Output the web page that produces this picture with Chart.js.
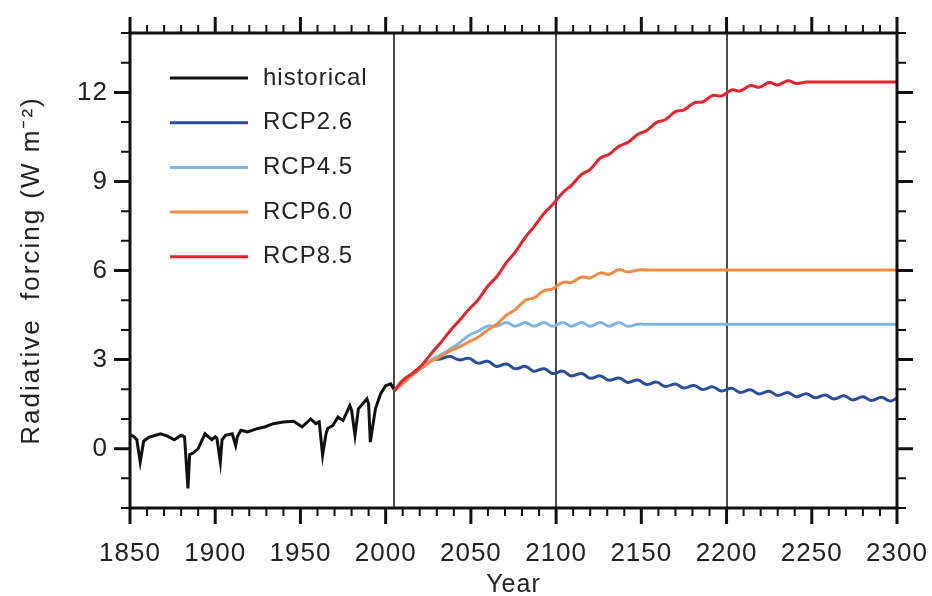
<!DOCTYPE html>
<html>
<head>
<meta charset="utf-8">
<script src="https://cdn.jsdelivr.net/npm/chart.js@4.4.1/dist/chart.umd.min.js"></script>
<style>
  html, body { margin: 0; padding: 0; background: #fff; }
  #wrap { width: 932px; height: 596px; }
</style>
</head>
<body>
<div id="wrap"><canvas id="chart" width="932" height="596"></canvas></div>
<script>
// historical forcing (volcanic dips kept as single points)
const histYears = [1850, 1852, 1854, 1856, 1858, 1861, 1865, 1868, 1872, 1876, 1880, 1882, 1884, 1885, 1887, 1890,
	1894, 1898, 1900, 1901, 1903, 1904, 1906, 1910, 1912, 1913, 1915, 1919, 1925, 1929, 1934, 1940, 1946, 1951,
	1956, 1959, 1961, 1963, 1965, 1966, 1969, 1972, 1975, 1979, 1980, 1982, 1984, 1989, 1990, 1991, 1992, 1994,
	1997, 2000, 2003, 2005];
const histValues = [0.45, 0.42, 0.3, -0.45, 0.25, 0.38, 0.45, 0.5, 0.42, 0.3, 0.45, 0.4, -1.34, -0.2, -0.15, 0.0,
	0.5, 0.3, 0.4, 0.35, -0.45, 0.3, 0.45, 0.5, 0.1, 0.4, 0.62, 0.56, 0.68, 0.73, 0.84, 0.9, 0.92, 0.73,
	1.0, 0.84, 0.9, -0.22, 0.5, 0.68, 0.78, 1.06, 0.95, 1.45, 1.3, 0.45, 1.34, 1.68, 1.5, 0.22, 0.6, 1.34,
	1.84, 2.12, 2.18, 1.98];

// scenario years: roughly half a solar cycle apart so the wiggle shows
const futureYears = [2005, 2010, 2016, 2021, 2027, 2032, 2038, 2043, 2049, 2054, 2060, 2065, 2071, 2076, 2082,
	2087, 2093, 2098, 2104, 2109, 2115, 2120, 2126, 2131, 2137, 2142, 2148, 2153, 2159, 2164, 2170, 2175, 2181,
	2186, 2192, 2197, 2203, 2208, 2214, 2219, 2225, 2230, 2236, 2241, 2247, 2252, 2258, 2263, 2269, 2274, 2280,
	2285, 2291, 2296, 2300];
const rcp26 = [1.95, 2.2, 2.5, 2.72, 2.97, 3.02, 3.1, 2.99, 3.04, 2.88, 2.94, 2.77, 2.85, 2.69, 2.77,
	2.61, 2.69, 2.53, 2.61, 2.45, 2.53, 2.37, 2.45, 2.3, 2.38, 2.23, 2.31, 2.16, 2.24, 2.09, 2.18, 2.04, 2.13,
	1.99, 2.08, 1.94, 2.03, 1.89, 1.98, 1.84, 1.93, 1.79, 1.89, 1.75, 1.85, 1.71, 1.81, 1.67, 1.78, 1.64, 1.75,
	1.62, 1.73, 1.6, 1.7];
const rcp45 = [1.95, 2.2, 2.52, 2.76, 3.0, 3.15, 3.36, 3.55, 3.82, 3.95, 4.13, 4.12, 4.25, 4.12, 4.25,
	4.12, 4.25, 4.12, 4.25, 4.12, 4.25, 4.12, 4.25, 4.12, 4.25, 4.12, 4.19, 4.19, 4.19, 4.19, 4.19, 4.19, 4.19,
	4.19, 4.19, 4.19, 4.19, 4.19, 4.19, 4.19, 4.19, 4.19, 4.19, 4.19, 4.19, 4.19, 4.19, 4.19, 4.19, 4.19, 4.19,
	4.19, 4.19, 4.19, 4.19];
const rcp60 = [1.95, 2.2, 2.5, 2.72, 2.95, 3.1, 3.3, 3.42, 3.6, 3.74, 4.0, 4.18, 4.5, 4.68, 5.0,
	5.08, 5.32, 5.38, 5.6, 5.6, 5.78, 5.75, 5.92, 5.87, 6.03, 5.95, 6.02, 6.02, 6.02, 6.02, 6.02, 6.02, 6.02,
	6.02, 6.02, 6.02, 6.02, 6.02, 6.02, 6.02, 6.02, 6.02, 6.02, 6.02, 6.02, 6.02, 6.02, 6.02, 6.02, 6.02, 6.02,
	6.02, 6.02, 6.02, 6.02];
const rcp85 = [1.95, 2.3, 2.55, 2.8, 3.22, 3.55, 3.98, 4.3, 4.7, 5.0, 5.48, 5.78, 6.28, 6.62, 7.12,
	7.47, 7.93, 8.22, 8.63, 8.87, 9.24, 9.41, 9.79, 9.91, 10.19, 10.31, 10.59, 10.71, 10.99, 11.08, 11.35, 11.41, 11.65,
	11.68, 11.9, 11.88, 12.08, 12.05, 12.23, 12.17, 12.33, 12.25, 12.39, 12.3, 12.35, 12.35, 12.35, 12.35, 12.35, 12.35, 12.35,
	12.35, 12.35, 12.35, 12.35];

const seriesNames = ['historical', 'RCP2.6', 'RCP4.5', 'RCP6.0', 'RCP8.5'];
const seriesColors = ['#111111', '#2a4e9c', '#7db5e5', '#f48943', '#e6232c'];

const xTicks = [1850, 1900, 1950, 2000, 2050, 2100, 2150, 2200, 2250, 2300];
const yTicks = [0, 3, 6, 9, 12];
const refYears = [2005, 2100, 2200];
const yTitle = 'Radiative  forcing (W m\u207B\u00B2)';

const FONT = "'Liberation Sans', Arial, Helvetica, sans-serif";
const INK = '#222';

const toPoints = (xs, ys) => xs.map((x, i) => ({ x: x, y: ys[i] }));

const makeSet = (i, xs, ys, order, tension) => ({
	label: seriesNames[i],
	data: toPoints(xs, ys),
	borderColor: seriesColors[i],
	backgroundColor: seriesColors[i],
	borderWidth: 3,
	pointRadius: 0,
	tension: tension,
	order: order
});

const framePlugin = {
	id: 'frame',
	beforeLayout(chart) {
		chart.ctx.letterSpacing = '1px';
	},
	beforeDraw(chart) {
		chart.ctx.letterSpacing = '1px';
	},
	beforeDatasetsDraw(chart) {
		const { ctx, chartArea: a, scales } = chart;
		ctx.save();
		ctx.strokeStyle = '#4a4a4a';
		ctx.lineWidth = 2;
		refYears.forEach((yr) => {
			const px = Math.round(scales.x.getPixelForValue(yr));
			ctx.beginPath();
			ctx.moveTo(px, a.top);
			ctx.lineTo(px, a.bottom);
			ctx.stroke();
		});
		ctx.restore();
	},
	afterDatasetsDraw(chart) {
		const { ctx, chartArea: a, scales } = chart;
		ctx.save();
		ctx.strokeStyle = '#111';
		ctx.lineWidth = 3;
		ctx.strokeRect(a.left, a.top, a.right - a.left, a.bottom - a.top);
		// outward tick marks on all four sides
		for (let yr = 1850; yr <= 2300; yr += 10) {
			const major = xTicks.includes(yr);
			const len = major ? 16 : 8;
			const px = scales.x.getPixelForValue(yr);
			ctx.lineWidth = major ? 3 : 2;
			ctx.beginPath();
			ctx.moveTo(px, a.bottom);
			ctx.lineTo(px, a.bottom + len);
			ctx.moveTo(px, a.top);
			ctx.lineTo(px, a.top - len);
			ctx.stroke();
		}
		for (let v = -2; v <= 14; v++) {
			const major = yTicks.includes(v);
			const len = major ? 16 : 9;
			const py = scales.y.getPixelForValue(v);
			ctx.lineWidth = major ? 3 : 2;
			ctx.beginPath();
			ctx.moveTo(a.left, py);
			ctx.lineTo(a.left - len, py);
			ctx.moveTo(a.right, py);
			ctx.lineTo(a.right + len, py);
			ctx.stroke();
		}
		ctx.restore();
	},
	afterDraw(chart) {
		const { ctx, chartArea: a } = chart;
		ctx.save();
		ctx.font = '24px ' + FONT;
		ctx.textBaseline = 'middle';
		ctx.fillStyle = INK;
		chart.data.datasets.forEach((ds, i) => {
			const yy = a.top + 45 + i * 44.7;
			ctx.strokeStyle = ds.borderColor;
			ctx.lineWidth = 3;
			ctx.beginPath();
			ctx.moveTo(a.left + 40, yy);
			ctx.lineTo(a.left + 118, yy);
			ctx.stroke();
			ctx.fillText(ds.label, a.left + 133, yy);
		});
		// y axis title, wider spaced than the library title allows
		ctx.letterSpacing = '2px';
		ctx.font = '26px ' + FONT;
		ctx.textAlign = 'center';
		ctx.translate(32, (a.top + a.bottom) / 2);
		ctx.rotate(-Math.PI / 2);
		ctx.fillText(yTitle, 0, 0);
		ctx.restore();
	}
};

new Chart(document.getElementById('chart'), {
	type: 'line',
	data: {
		datasets: [
			makeSet(0, histYears, histValues, 4, 0),
			makeSet(1, futureYears, rcp26, 3, 0.4),
			makeSet(2, futureYears, rcp45, 2, 0.4),
			makeSet(3, futureYears, rcp60, 1, 0.4),
			makeSet(4, futureYears, rcp85, 0, 0.4)
		]
	},
	options: {
		responsive: false,
		animation: false,
		layout: { padding: { top: 33, right: 35, left: 0, bottom: 0 } },
		plugins: { legend: { display: false }, tooltip: { enabled: false } },
		scales: {
			x: {
				type: 'linear',
				min: 1850,
				max: 2300,
				grid: { display: false, drawTicks: false },
				border: { display: false },
				afterBuildTicks: (s) => { s.ticks = xTicks.map((v) => ({ value: v })); },
				afterFit: (s) => {
					s.height = 88;
					s.paddingLeft = 0;
					s.paddingRight = 0;
				},
				ticks: {
					padding: 30,
					color: INK,
					font: { family: FONT, size: 26 },
					maxRotation: 0,
					autoSkip: false,
					callback: (v) => String(v)
				},
				title: { display: true, text: 'Year', color: INK, font: { family: FONT, size: 25 }, padding: { top: 0, bottom: -4 } }
			},
			y: {
				min: -2,
				max: 14,
				grid: { display: false, drawTicks: false },
				border: { display: false },
				afterBuildTicks: (s) => { s.ticks = yTicks.map((v) => ({ value: v })); },
				afterFit: (s) => {
					s.width = 130;
					s.paddingTop = 0;
					s.paddingBottom = 0;
				},
				ticks: {
					padding: 22,
					color: INK,
					font: { family: FONT, size: 26 },
					callback: (v) => String(v)
				},
				title: { display: false }
			}
		}
	},
	plugins: [framePlugin]
});
</script>
</body>
</html>
